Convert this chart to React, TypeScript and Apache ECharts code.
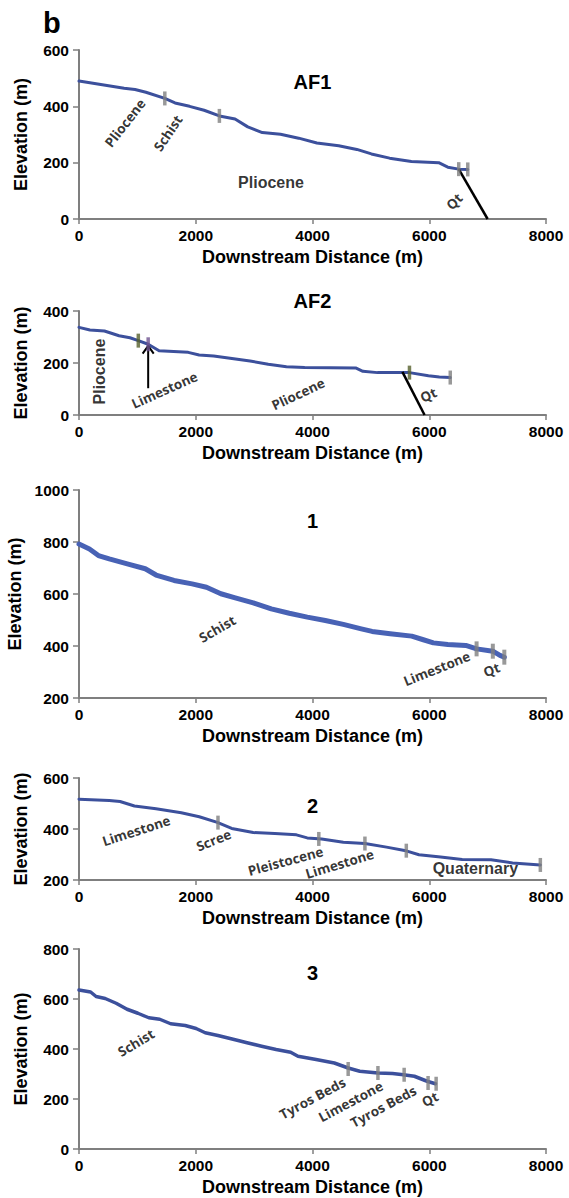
import React, { useEffect, useRef } from "react";
import * as echarts from "echarts";

// ---------- data (distance m, elevation m) ----------
const xTicks = [0, 2000, 4000, 6000, 8000];
const panelTitles = ["AF1", "AF2", "1", "2", "3"];
const yRanges: [number, number][] = [
  [0, 600],
  [0, 400],
  [200, 1000],
  [200, 600],
  [0, 800],
];

const af1Profile = [
  [0, 490], [773, 464], [960, 460], [1146, 450], [1470, 428], [1645, 412], [1894, 400],
  [2143, 386], [2405, 366], [2673, 355], [2891, 327], [3140, 307], [3452, 301], [3763, 287],
  [4075, 270], [4449, 260], [4760, 247], [5009, 231], [5321, 216], [5695, 204], [6162, 200],
  [6318, 184], [6505, 177], [6660, 176],
];
const af1Markers = [[1470, 428], [2405, 366], [6505, 177], [6660, 176]];
const af1Fault = [[6505, 177], [7000, 0]];
const af1Labels = [
  { text: "Pliocene", x: 788, y: 341 },
  { text: "Schist", x: 1525, y: 305 },
  { text: "Pliocene", x: 3289, y: 128 },
  { text: "Qt", x: 6430, y: 62 },
];

const af2Profile = [
  [0, 337], [187, 327], [436, 323], [686, 305], [873, 297], [1016, 286], [1185, 272],
  [1372, 247], [1621, 244], [1871, 241], [2058, 231], [2307, 227], [2557, 219], [2930, 208],
  [3242, 195], [3554, 186], [3866, 183], [4302, 182], [4739, 181], [4863, 168], [5113, 163],
  [5661, 163], [5986, 151], [6173, 146], [6360, 144],
];
const af2Markers = [[1016, 286], [1185, 272], [5661, 163], [6360, 144]];
const af2Fault = [[5540, 166], [5920, 0]];
const af2Arrow = [[1185, 103], [1185, 266]];
const af2ArrowHead = [[1090, 236], [1185, 266], [1280, 236]];
const af2Labels = [
  { text: "Pliocene", x: 343, y: 167 },
  { text: "Limestone", x: 1465, y: 96 },
  { text: "Pliocene", x: 3753, y: 81 },
  { text: "Qt", x: 5986, y: 77 },
];

const p1Profile = [
  [0, 792], [179, 773], [333, 748], [518, 735], [827, 716], [1135, 697], [1320, 673],
  [1628, 652], [1937, 639], [2184, 626], [2430, 601], [2677, 585], [2985, 566], [3294, 543],
  [3602, 526], [3911, 511], [4220, 498], [4528, 483], [4836, 466], [5021, 456], [5330, 447],
  [5700, 438], [5885, 425], [6071, 412], [6318, 406], [6626, 402], [6811, 389], [7089, 380],
  [7212, 364], [7286, 357],
];
const p1Markers = [[6811, 389], [7089, 380], [7286, 357]];
const p1Labels = [
  { text: "Schist", x: 2368, y: 466 },
  { text: "Limestone", x: 6130, y: 313 },
  { text: "Qt", x: 7068, y: 309 },
];

const p2Profile = [
  [0, 517], [518, 512], [703, 508], [950, 490], [1320, 479], [1752, 464], [2060, 448],
  [2369, 426], [2616, 402], [2985, 386], [3355, 382], [3725, 377], [3910, 365], [4157, 361],
  [4528, 348], [4898, 343], [5268, 329], [5577, 316], [5824, 299], [6194, 290], [6564, 280],
  [7058, 279], [7428, 267], [7903, 259],
];
const p2Markers = [[2381, 425], [4108, 361], [4898, 343], [5607, 315], [7903, 259]];
const p2Labels = [
  { text: "Limestone", x: 981, y: 393 },
  { text: "Scree", x: 2307, y: 356 },
  { text: "Pleistocene", x: 3540, y: 274 },
  { text: "Limestone", x: 4465, y: 263 },
  { text: "Quaternary", x: 6790, y: 244 },
];

const p3Profile = [
  [0, 636], [199, 628], [293, 610], [449, 602], [636, 583], [823, 559], [1009, 543],
  [1196, 525], [1383, 519], [1570, 501], [1819, 494], [2006, 482], [2162, 465], [2380, 454],
  [2692, 436], [2879, 425], [3128, 411], [3377, 398], [3626, 387], [3751, 371], [4062, 358],
  [4374, 344], [4611, 324], [4810, 311], [5121, 304], [5371, 302], [5558, 297], [5745, 291],
  [5963, 271], [6106, 261],
];
const p3Markers = [[4611, 320], [5121, 304], [5570, 297], [5980, 264], [6118, 261]];
const p3Labels = [
  { text: "Schist", x: 978, y: 425 },
  { text: "Tyros Beds", x: 4000, y: 203 },
  { text: "Limestone", x: 4654, y: 190 },
  { text: "Tyros Beds", x: 5215, y: 170 },
  { text: "Qt", x: 6012, y: 199 },
];

// ---------- styles ----------
const GRIDS = [
  { top: 50, height: 169 },
  { top: 311, height: 104 },
  { top: 490, height: 208 },
  { top: 778, height: 102 },
  { top: 949, height: 200 },
];
const GRID_LEFT = 79;
const GRID_WIDTH = 467;
const TITLE_Y = [82, 301, 521, 806, 973];

const AXIS_GRAY = "#7f7f7f";
const LINE_BLUE = "#3c509c";
const GRAY = "#7f7f7f";
const OLIVE = "#56602c";
const PURPLE = "#6f5490";
const ARIAL = "'Liberation Sans', Arial, Helvetica, sans-serif";
const CALIBRI = "'Open Sans', 'Noto Sans', sans-serif";

type LabelStyle = { rot: number; bold?: boolean };
const af1LabelStyle: LabelStyle[] = [{ rot: 52 }, { rot: 56 }, { rot: 0, bold: true }, { rot: 45 }];
const af2LabelStyle: LabelStyle[] = [{ rot: 90, bold: true }, { rot: 24 }, { rot: 25 }, { rot: 25 }];
const p1LabelStyle: LabelStyle[] = [{ rot: 30 }, { rot: 22 }, { rot: 22 }];
const p2LabelStyle: LabelStyle[] = [{ rot: 18 }, { rot: 22 }, { rot: 15 }, { rot: 17 }, { rot: 0, bold: true }];
const p3LabelStyle: LabelStyle[] = [{ rot: 31 }, { rot: 28 }, { rot: 28 }, { rot: 28 }, { rot: 28 }];

const af1MarkerColors = [GRAY, GRAY, GRAY, GRAY];
const af2MarkerColors = [OLIVE, PURPLE, OLIVE, GRAY];

function profileSeries(i: number, data: number[][], width: number, color: string) {
  return {
    type: "line",
    xAxisIndex: i,
    yAxisIndex: i,
    data,
    symbol: "none",
    showSymbol: false,
    lineStyle: { color, width, cap: "round", join: "round" },
    z: 3,
    silent: true,
  };
}

function plainLine(i: number, data: number[][], width: number) {
  return {
    type: "line",
    xAxisIndex: i,
    yAxisIndex: i,
    data,
    symbol: "none",
    showSymbol: false,
    lineStyle: { color: "#000", width, cap: "butt" },
    z: 4,
    silent: true,
  };
}

function markerSeries(i: number, data: number[][], colors?: string[], size: number[] = [3.5, 14]) {
  return {
    type: "scatter",
    xAxisIndex: i,
    yAxisIndex: i,
    symbol: "rect",
    symbolSize: size,
    data: data.map((d, k) => ({
      value: d,
      itemStyle: { color: colors ? colors[k] : GRAY },
    })),
    z: 5,
    silent: true,
  };
}

function labelSeries(i: number, labels: { text: string; x: number; y: number }[], styles: LabelStyle[]) {
  return {
    type: "scatter",
    xAxisIndex: i,
    yAxisIndex: i,
    symbolSize: 1,
    itemStyle: { color: "rgba(0,0,0,0)" },
    data: labels.map((l, k) => {
      const s = styles[k];
      return {
        value: [l.x, l.y],
        label: {
          show: true,
          position: "inside",
          formatter: l.text,
          rotate: s.rot,
          color: "#000",
          fontFamily: s.bold ? ARIAL : CALIBRI,
          fontWeight: "bold",
          fontSize: s.bold ? 16 : 13.5,
          align: "center",
          verticalAlign: "middle",
        },
      };
    }),
    z: 6,
    silent: true,
  };
}

const plain = (v: number) => String(v);

export default function App() {
  const ref = useRef<HTMLDivElement>(null);

  useEffect(() => {
    document.body.style.margin = "0";
    if (!ref.current) return;
    const chart = echarts.init(ref.current, undefined, { renderer: "svg" });

    const grid = GRIDS.map((g) => ({
      left: GRID_LEFT,
      width: GRID_WIDTH,
      top: g.top,
      height: g.height,
      containLabel: false,
      outerBoundsMode: "none",
    }));

    const xAxis = GRIDS.map((_, i) => ({
      type: "value",
      gridIndex: i,
      min: xTicks[0],
      max: xTicks[xTicks.length - 1],
      interval: xTicks[1] - xTicks[0],
      name: "Downstream Distance (m)",
      nameLocation: "middle",
      nameGap: 29,
      nameTextStyle: { fontFamily: ARIAL, fontWeight: "bold", fontSize: 18, color: "#000" },
      axisLine: { show: true, onZero: false, lineStyle: { color: AXIS_GRAY, width: 2 } },
      axisTick: { show: true, length: 5, lineStyle: { color: AXIS_GRAY, width: 1.5 } },
      axisLabel: {
        fontFamily: ARIAL,
        fontWeight: "bold",
        fontSize: 15.5,
        color: "#000",
        margin: 8,
        formatter: plain,
      },
      splitLine: { show: false },
    }));

    const yAxis = GRIDS.map((_, i) => ({
      type: "value",
      gridIndex: i,
      min: yRanges[i][0],
      max: yRanges[i][1],
      interval: 200,
      name: "Elevation (m)",
      nameLocation: "middle",
      nameGap: 49,
      nameTextStyle: { fontFamily: ARIAL, fontWeight: "bold", fontSize: 18, color: "#000" },
      axisLine: { show: true, onZero: false, lineStyle: { color: AXIS_GRAY, width: 2 } },
      axisTick: { show: true, length: 6, lineStyle: { color: AXIS_GRAY, width: 1.5 } },
      axisLabel: {
        fontFamily: ARIAL,
        fontWeight: "bold",
        fontSize: 15.5,
        color: "#000",
        margin: 10,
        formatter: plain,
      },
      splitLine: { show: false },
    }));

    const series: any[] = [
      profileSeries(0, af1Profile, 3, LINE_BLUE),
      plainLine(0, af1Fault, 2.5),
      markerSeries(0, af1Markers, af1MarkerColors),
      labelSeries(0, af1Labels, af1LabelStyle),

      profileSeries(1, af2Profile, 3, LINE_BLUE),
      plainLine(1, af2Fault, 2.5),
      plainLine(1, af2Arrow, 2),
      plainLine(1, af2ArrowHead, 2),
      markerSeries(1, af2Markers, af2MarkerColors),
      labelSeries(1, af2Labels, af2LabelStyle),

      profileSeries(2, p1Profile, 5, "#4862b5"),
      markerSeries(2, p1Markers, undefined, [4, 15]),
      labelSeries(2, p1Labels, p1LabelStyle),

      profileSeries(3, p2Profile, 3, LINE_BLUE),
      markerSeries(3, p2Markers),
      labelSeries(3, p2Labels, p2LabelStyle),

      profileSeries(4, p3Profile, 3.5, LINE_BLUE),
      markerSeries(4, p3Markers),
      labelSeries(4, p3Labels, p3LabelStyle),
    ];

    const graphic: any[] = [
      {
        type: "text",
        x: 43,
        y: 23,
        style: {
          text: "b",
          font: `bold 29px ${ARIAL}`,
          fill: "#000",
          textAlign: "left",
          textVerticalAlign: "middle",
          align: "left",
          verticalAlign: "middle",
        },
      },
      ...panelTitles.map((t, i) => ({
        type: "text",
        x: GRID_LEFT + GRID_WIDTH / 2,
        y: TITLE_Y[i],
        style: {
          text: t,
          font: `bold 20px ${ARIAL}`,
          fill: "#000",
          textAlign: "center",
          textVerticalAlign: "middle",
          align: "center",
          verticalAlign: "middle",
        },
      })),
    ];

    chart.setOption({
      animation: false,
      backgroundColor: "#fff",
      grid,
      xAxis,
      yAxis,
      series,
      graphic,
    });

    return () => chart.dispose();
  }, []);

  return (
    <div
      ref={ref}
      style={{ position: "absolute", left: 0, top: 0, width: 569, height: 1198 }}
    />
  );
}
